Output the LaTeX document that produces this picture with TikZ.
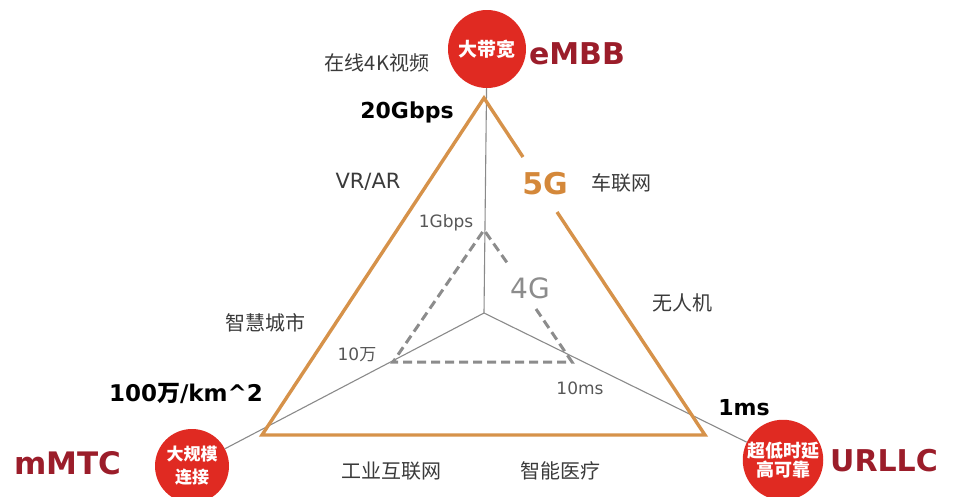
\documentclass[tikz,border=0pt]{standalone}
\usepackage{fontspec}
\setmainfont{DejaVu Sans}
\newfontfamily\cjk{Noto Sans CJK SC}
\usetikzlibrary{calc}
\definecolor{orangeline}{HTML}{D6924A}
\definecolor{fiveg}{HTML}{D4883A}
\definecolor{maroon}{HTML}{9B1D2A}
\definecolor{redball}{HTML}{E02A22}
\definecolor{greyline}{HTML}{8A8A8A}
\definecolor{dashgrey}{HTML}{8C8C8C}
\definecolor{txt}{HTML}{3A3A3A}
\begin{document}
\begin{tikzpicture}[x=1pt,y=-1pt,
  ball/.style={circle,fill=redball,inner sep=0pt,text=white,align=center},
  bigname/.style={text=maroon,font=\bfseries\fontsize{30}{31}\selectfont},
  lab/.style={text=txt,font=\cjk\fontsize{20}{21}\selectfont},
  boldlab/.style={text=black,font=\bfseries\fontsize{22}{23}\selectfont},
  greylab/.style={text=txt!85!white,font=\fontsize{17}{18}\selectfont},
  orangeedge/.style={draw=orangeline,line width=3.4pt,line join=miter},
  greyedge/.style={draw=greyline,line width=1.1pt},
  dashedge/.style={draw=dashgrey,line width=3pt,dash pattern=on 9pt off 5pt}
]
\useasboundingbox (0,0) rectangle (954,496);
% key points
\coordinate (A) at (484,98);
\coordinate (B) at (262,435);
\coordinate (C) at (705,435);
\coordinate (O) at (484,313);
\coordinate (P1) at (523,157);
\coordinate (P2) at (557,212);
\coordinate (T) at (484,230);
\coordinate (L) at (393,362);
\coordinate (R) at (572,362);
\coordinate (Q1) at (508,264);
\coordinate (Q2) at (536,309);
% circles
\node[ball,minimum size=78pt,font=\cjk\bfseries\fontsize{19}{20}\selectfont] (embb) at (487,49) {大带宽};
\node[ball,minimum size=74pt,font=\cjk\bfseries\fontsize{17}{23}\selectfont] (mmtc) at (192,466) {大规模\\连接};
\node[ball,minimum size=74pt,font=\cjk\bfseries\fontsize{18}{19}\selectfont] (urllc) at (783,460) {超低时延\\高可靠};
% grey axes
\draw[greyedge] (O) -- (embb);
\draw[greyedge] (O) -- (mmtc);
\draw[greyedge] (O) -- (urllc);
% orange triangle
\draw[orangeedge] (P1) -- (A) -- (B) -- (C) -- (P2);
% dashed 4G triangle
\draw[dashedge] (Q2) -- (R) -- (L) -- (T) -- (Q1);
% names
\node[bigname] (n1) at (577,54) {eMBB};
\node[bigname,font=\bfseries\fontsize{31}{32}\selectfont] (n2) at (68,463) {mMTC};
\node[bigname] (n3) at (884,461) {URLLC};
\node[text=fiveg,font=\bfseries\fontsize{30}{31}\selectfont] (g5) at (545,184) {5G};
\node[text=dashgrey,font=\fontsize{28}{29}\selectfont] (g4) at (530,288) {4G};
% value labels
\node[boldlab] (v1) at (407,112) {20Gbps};
\node[boldlab,font=\bfseries\fontsize{23}{24}\selectfont] (v2) at (186,393) {100{\cjk 万}/km\^{}2};
\node[boldlab] (v3) at (744,408) {1ms};
\node[greylab] (v4) at (446,223) {1Gbps};
\node[greylab] (v5) at (357,355) {10{\cjk 万}};
\node[greylab] (v6) at (580,388) {10ms};
% applications
\node[lab] (a1) at (377,63) {在线4K视频};
\node[lab,font=\fontsize{21}{22}\selectfont] (a2) at (368,182) {VR/AR};
\node[lab] (a3) at (621,183) {车联网};
\node[lab] (a4) at (682,303) {无人机};
\node[lab] (a5) at (265,323) {智慧城市};
\node[lab] (a6) at (391,471) {工业互联网};
\node[lab] (a7) at (560,471) {智能医疗};
\end{tikzpicture}
\end{document}
